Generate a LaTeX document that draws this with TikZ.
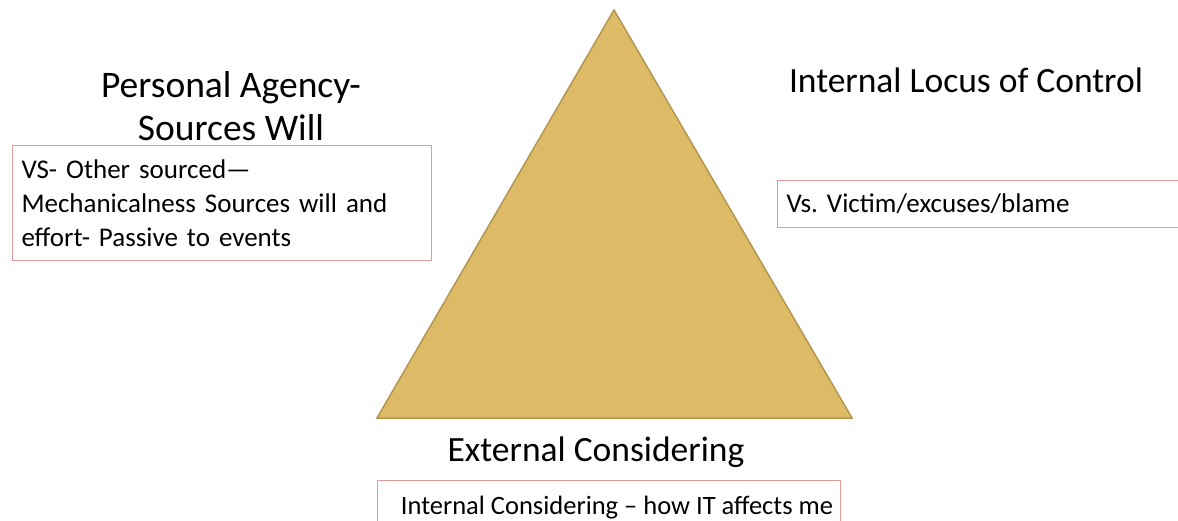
\documentclass[tikz,border=0pt]{standalone}
\usepackage{fontspec}
\setmainfont{Carlito}
\frenchspacing
\definecolor{gold}{HTML}{DDBB66}
\definecolor{goldline}{HTML}{B39650}
\definecolor{boxline}{HTML}{E39A9A}
\begin{document}
\begin{tikzpicture}[x=1pt,y=-1pt,
  title/.style={font=\fontsize{35.5}{43}\selectfont, text=black, align=center, inner sep=0pt},
  frame/.style={draw=boxline, line width=1pt, fill=white},
  note/.style={frame, font=\fontsize{27}{34}\selectfont, align=left, inner xsep=9pt, inner ysep=0pt}
]
\useasboundingbox (0,0) rectangle (1178,521);
\begin{scope}
\clip (0,0) rectangle (1178,521);
\coordinate (apex) at (614,10);
\coordinate (bl) at (377,418);
\coordinate (br) at (852,418);
\draw[fill=gold, draw=goldline, line width=1.5pt, line join=miter] (apex) -- (br) -- (bl) -- cycle;

\node[title, font=\fontsize{37.5}{43}\selectfont] (pa) at (231,106) {Personal Agency-\\Sources Will};
\node[title] (ilc) at (966,80) {Internal Locus of Control};
\node[title] (ec) at (596,452) {External Considering};

\node[note, anchor=north west, text width=401pt, minimum height=115pt] (b1) at (12,145)
  {VS- Other sourced—\\Mechanicalness Sources will and\\effort- Passive to events};
\node[note, anchor=north west, text width=420pt, minimum height=47pt] (b2) at (777,180)
  {Vs. Victim/excuses/blame};
\coordinate (b3nw) at (377,480);
\coordinate (b3se) at (840,540);
\draw[frame] (b3nw) rectangle (b3se);
\node[font=\fontsize{26.5}{34}\selectfont, inner sep=0pt, anchor=base] (b3) at (617,514)
  {Internal Considering – how IT affects me};
\end{scope}
\end{tikzpicture}
\end{document}
